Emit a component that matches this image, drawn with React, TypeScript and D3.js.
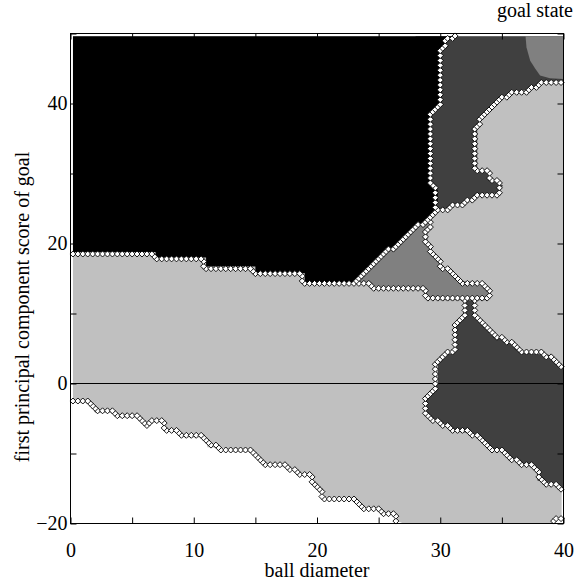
import React, { useEffect, useRef } from 'react';
import * as d3 from 'd3';

const W = 586;
const H = 588;

// axis ticks and labels
const xTicks = [0, 5, 10, 15, 20, 25, 30, 35, 40];
const xLabels = [0, 10, 20, 30, 40];
const yTicks = [-20, -10, 0, 10, 20, 30, 40, 50];
const yLabels = [-20, 0, 20, 40];

// region outlines, [ball diameter, score]
// (drawn in this order, later ones on top)
const whiteLow: [number, number][] = [
  [0, -2.8], [1.5, -2.8], [1.8, -3.4], [2.0, -4.2], [3.6, -4.2], [3.9, -4.9], [5.5, -4.9],
  [5.9, -5.7], [7.6, -5.5], [7.8, -6.7], [8.6, -7.0], [9.2, -7.7], [10.8, -7.7], [11.1, -8.4],
  [11.1, -9.1], [12.7, -9.2], [13.1, -9.8], [14.9, -9.8], [15.3, -11.0], [15.9, -11.7],
  [17.7, -12.0], [18.4, -12.7], [19.4, -12.9], [19.7, -14.2], [20.3, -15.2], [20.6, -16.2],
  [22.5, -16.2], [24.1, -17.9], [25.4, -18.3], [26.2, -18.9], [26.5, -19.6], [27.0, -20], [0, -20],
];
const whiteCorner: [number, number][] = [
  [39.85, -15.2], [40, -15.2], [40, -20], [39.0, -20], [39.5, -19.4], [39.85, -19.0],
];
const darkTop: [number, number][] = [
  [28, 50], [40, 50], [40, 43.3], [38.1, 43.0], [37.7, 42.1], [35.9, 41.6], [35.1, 40.7],
  [34.1, 39.4], [33.3, 37.6], [33.0, 37.0], [33.0, 30.6], [33.8, 30.1], [34.3, 28.9],
  [35.1, 28.3], [34.6, 27.1], [33.3, 27.1], [32.2, 25.9], [30.6, 25.1], [29.4, 24.3], [28, 24.3],
];
const midCenter: [number, number][] = [
  [23.3, 14.4], [23.8, 14.1], [25.9, 13.6], [28.6, 13.3], [29.2, 12.1], [30.0, 11.9],
  [33.8, 11.9], [33.9, 13.3], [33.5, 14.0], [33.0, 14.5], [31.3, 14.7], [30.8, 15.9],
  [30.0, 16.9], [29.7, 17.9], [29.2, 18.6], [29.0, 20.0], [29.0, 22.3], [29.2, 23.3],
  [29.4, 24.3], [23.0, 20],
];
const blackTop: [number, number][] = [
  [0, 50], [31.2, 50], [31.0, 49.3], [30.4, 48.8], [30.1, 47.9], [30.1, 39.5], [29.2, 39.0],
  [29.2, 28.6], [29.8, 27.6], [29.8, 26.1], [29.4, 24.3], [28.9, 23.3], [27.8, 21.9],
  [26.9, 20.2], [25.7, 19.0], [25.0, 17.6], [23.8, 15.9], [23.3, 14.4], [19.0, 14.4],
  [19.0, 15.8], [15.0, 15.8], [15.0, 16.7], [11.0, 16.7], [11.0, 18.0], [6.9, 18.0],
  [6.9, 18.8], [0, 18.8],
];
const midCorner: [number, number][] = [
  [36.9, 50], [40, 50], [40, 43.5], [38.9, 43.6], [38.1, 44.0], [37.7, 45.0], [37.3, 46.1], [37.0, 48.0],
];
const darkLow: [number, number][] = [
  [31.9, 11.9], [32.9, 11.9], [32.9, 9.3], [33.6, 8.6], [34.1, 7.1], [34.9, 6.6], [35.8, 5.7],
  [36.6, 4.7], [37.3, 4.3], [38.8, 4.1], [39.2, 3.0], [39.9, 2.6], [40, 2.3], [40, -15],
  [39.7, -14.8], [38.7, -14.1], [37.9, -13.9], [37.8, -12.1], [37.0, -11.7], [35.9, -11.0],
  [35.1, -9.8], [33.9, -9.1], [33.2, -7.9], [32.7, -7.1], [31.3, -6.9], [30.8, -6.0],
  [29.7, -5.4], [28.9, -4.6], [28.9, -2.4], [29.2, -1.3], [29.8, 0], [29.8, 3.3], [30.0, 4.0],
  [31.0, 4.3], [31.1, 5.1], [31.1, 8.0], [31.3, 8.7], [31.8, 9.3], [31.9, 11.3],
];

const regions = [
  { name: 'whiteLow', pts: whiteLow, fill: '#ffffff' },
  { name: 'whiteCorner', pts: whiteCorner, fill: '#ffffff' },
  { name: 'darkTop', pts: darkTop, fill: '#404040' },
  { name: 'midCenter', pts: midCenter, fill: '#808080' },
  { name: 'blackTop', pts: blackTop, fill: '#000000' },
  { name: 'midCorner', pts: midCorner, fill: '#808080' },
  { name: 'darkLow', pts: darkLow, fill: '#404040' },
];
// boundaries that carry no diamond markers
const unmarked = [['darkTop', 'midCorner']];

// classifier grid the boundary markers sit on
const NX = 100;
const NY = 100;

function App() {
  const ref = useRef<SVGSVGElement>(null);

  useEffect(() => {
    const svg = d3.select(ref.current);
    svg.selectAll('*').remove();

    const x = d3.scaleLinear().domain([0, 40]).range([70.5, 563.5]);
    const y = d3.scaleLinear().domain([-20, 50]).range([523.5, 33.5]);
    const font = '"Liberation Serif", "Times New Roman", serif';

    svg.append('clipPath').attr('id', 'mapclip')
      .append('rect')
      .attr('x', x(0.2)).attr('y', y(49.6))
      .attr('width', x(40) - x(0.2)).attr('height', y(-20) - y(49.6));

    const map = svg.append('g').attr('clip-path', 'url(#mapclip)');
    map.append('rect')
      .attr('x', x(0)).attr('y', y(50))
      .attr('width', x(40) - x(0)).attr('height', y(-20) - y(50))
      .attr('fill', '#c0c0c0');

    const line = d3.line<[number, number]>().x(d => x(d[0])).y(d => y(d[1]));
    map.selectAll('path.region')
      .data(regions)
      .enter()
      .append('path')
      .attr('class', 'region')
      .attr('d', d => line(d.pts) + 'Z')
      .attr('fill', d => d.fill);

    // zero line
    svg.append('line')
      .attr('x1', x(0)).attr('x2', x(40))
      .attr('y1', y(0)).attr('y2', y(0))
      .attr('stroke', '#000').attr('stroke-width', 1);

    // classify grid cells, then mark where neighbours differ
    const dx = 40 / NX, dy = 70 / NY;
    const cls: number[][] = [];
    for (let j = 0; j < NY; j++) {
      const row: number[] = [];
      for (let i = 0; i < NX; i++) {
        const p: [number, number] = [(i + 0.5) * dx, -20 + (j + 0.5) * dy];
        let c = -1;
        regions.forEach((r, k) => { if (d3.polygonContains(r.pts, p)) c = k; });
        row.push(c);
      }
      cls.push(row);
    }
    const skip = (a: number, b: number) => {
      if (a < 0 || b < 0) return false;
      const na = regions[a].name, nb = regions[b].name;
      return unmarked.some(([u, v]) => (u === na && v === nb) || (u === nb && v === na));
    };
    const marks: [number, number][] = [];
    for (let j = 0; j < NY; j++) {
      for (let i = 0; i < NX; i++) {
        const c = cls[j][i];
        if (i + 1 < NX && cls[j][i + 1] !== c && !skip(c, cls[j][i + 1])) {
          marks.push([(i + 1) * dx, -20 + (j + 0.5) * dy]);
        }
        if (j + 1 < NY && cls[j + 1][i] !== c && !skip(c, cls[j + 1][i])) {
          marks.push([(i + 0.5) * dx, -20 + (j + 1) * dy]);
        }
      }
    }
    const r = 3;
    svg.append('g').selectAll('path')
      .data(marks)
      .enter()
      .append('path')
      .attr('d', `M0,${-r}L${r},0L0,${r}L${-r},0Z`)
      .attr('transform', d => `translate(${x(d[0])},${y(d[1])})`)
      .attr('fill', '#fff')
      .attr('stroke', '#000')
      .attr('stroke-width', 0.9);

    // frame and ticks
    svg.append('rect')
      .attr('x', x(0)).attr('y', y(50))
      .attr('width', x(40) - x(0)).attr('height', y(-20) - y(50))
      .attr('fill', 'none').attr('stroke', '#000');

    const fmt = (labels: number[]) => (d: d3.NumberValue) =>
      labels.includes(+d) ? d3.format('')(+d) : '';

    const styleAxis = (g: any) => {
      g.select('.domain').remove();
      g.selectAll('.tick line').attr('stroke', '#000');
      g.selectAll('.tick text').attr('fill', '#000');
    };

    svg.append('g').attr('transform', `translate(0,${y(-20)})`)
      .call(d3.axisBottom(x).tickValues(xTicks).tickSize(-6).tickPadding(19).tickFormat(fmt(xLabels)))
      .attr('font-family', font).attr('font-size', 20)
      .call(styleAxis);
    svg.append('g').attr('transform', `translate(0,${y(50)})`)
      .call(d3.axisTop(x).tickValues(xTicks).tickSize(-6).tickFormat(() => ''))
      .call(styleAxis);
    svg.append('g').attr('transform', `translate(${x(0)},0)`)
      .call(d3.axisLeft(y).tickValues(yTicks).tickSize(-6).tickPadding(3).tickFormat(fmt(yLabels)))
      .attr('font-family', font).attr('font-size', 20)
      .call(styleAxis);
    svg.append('g').attr('transform', `translate(${x(40)},0)`)
      .call(d3.axisRight(y).tickValues(yTicks).tickSize(-6).tickFormat(() => ''))
      .call(styleAxis);

    svg.append('text')
      .attr('x', (x(0) + x(40)) / 2).attr('y', 577)
      .attr('text-anchor', 'middle')
      .attr('font-family', font).attr('font-size', 20)
      .text('ball diameter');

    svg.append('text')
      .attr('transform', 'translate(29,307) rotate(-90)')
      .attr('text-anchor', 'middle')
      .attr('font-family', font).attr('font-size', 20)
      .text('first principal component score of goal');

    svg.append('text')
      .attr('x', 573).attr('y', 17)
      .attr('text-anchor', 'end')
      .attr('font-family', font).attr('font-size', 20)
      .text('goal state');
  }, []);

  return (
    <svg ref={ref} width={W} height={H}
      style={{ position: 'absolute', left: 0, top: 0, background: '#fff' }} />
  );
}

export default App;
